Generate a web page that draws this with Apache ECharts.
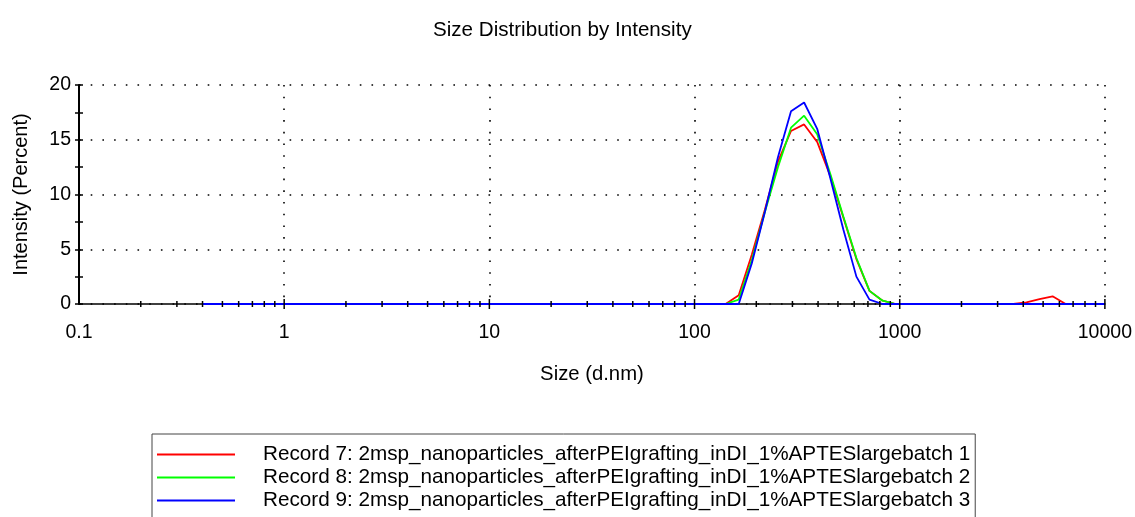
<!DOCTYPE html>
<html>
<head>
<meta charset="utf-8">
<script src="https://cdn.jsdelivr.net/npm/echarts@6/dist/echarts.min.js"></script>
<style>
html,body{margin:0;padding:0;background:#fff;}
#chart{width:1135px;height:517px;}
</style>
</head>
<body>
<div id="chart"></div>
<script>
// Size classes (d.nm)
const sizes = [0.4, 0.4632, 0.5365, 0.6213, 0.7195, 0.8332, 0.9649, 1.117, 1.294, 1.499,
  1.736, 2.01, 2.328, 2.696, 3.122, 3.615, 4.187, 4.849, 5.615, 6.503,
  7.531, 8.721, 10.1, 11.7, 13.54, 15.69, 18.17, 21.04, 24.36, 28.21,
  32.67, 37.84, 43.82, 50.75, 58.77, 68.06, 78.82, 91.28, 105.7, 122.4,
  141.8, 164.2, 190.1, 220.2, 255.0, 295.3, 342.0, 396.1, 458.7, 531.2,
  615.1, 712.4, 825.0, 955.4, 1106, 1281, 1484, 1718, 1990, 2305,
  2669, 3091, 3580, 4145, 4801, 5560, 6439, 7456, 8635, 10000];

const record7 = [0,0,0,0,0,0,0,0,0,0,
  0,0,0,0,0,0,0,0,0,0,
  0,0,0,0,0,0,0,0,0,0,
  0,0,0,0,0,0,0,0,0,0,
  0,0.8,4.5,8.6,13.0,15.8,16.4,14.8,11.7,7.9,
  4.1,1.2,0.3,0,0,0,0,0,0,0,
  0,0,0,0.15,0.45,0.7,0,0,0,0];

const record8 = [0,0,0,0,0,0,0,0,0,0,
  0,0,0,0,0,0,0,0,0,0,
  0,0,0,0,0,0,0,0,0,0,
  0,0,0,0,0,0,0,0,0,0,
  0,0.4,4.0,8.4,12.5,16.1,17.2,15.5,11.9,8.0,
  4.2,1.2,0.3,0,0,0,0,0,0,0,
  0,0,0,0,0,0,0,0,0,0];

const record9 = [0,0,0,0,0,0,0,0,0,0,
  0,0,0,0,0,0,0,0,0,0,
  0,0,0,0,0,0,0,0,0,0,
  0,0,0,0,0,0,0,0,0,0,
  0,0,3.7,8.4,13.4,17.6,18.4,16.0,11.5,6.8,
  2.5,0.4,0,0,0,0,0,0,0,0,
  0,0,0,0,0,0,0,0,0,0];

const seriesNames = [
  'Record 7: 2msp_nanoparticles_afterPEIgrafting_inDI_1%APTESlargebatch 1',
  'Record 8: 2msp_nanoparticles_afterPEIgrafting_inDI_1%APTESlargebatch 2',
  'Record 9: 2msp_nanoparticles_afterPEIgrafting_inDI_1%APTESlargebatch 3'
];
const seriesColors = ['#ff0000', '#00ff00', '#0000ff'];

const xMajorTicks = [1, 10, 100, 1000, 10000];
const xMinorTicks = [0.2,0.3,0.4,0.5,0.6,0.7,0.8,0.9,
  2,3,4,5,6,7,8,9,
  20,30,40,50,60,70,80,90,
  200,300,400,500,600,700,800,900,
  2000,3000,4000,5000,6000,7000,8000,9000];
const xTickLabels = ['0.1', '1', '10', '100', '1000', '10000'];

const FONT = "'Liberation Sans', Arial, sans-serif";
const dotted = { color: '#000', width: 1.6, type: [1.6, 10.1] };

const chart = echarts.init(document.getElementById('chart'), null, { renderer: 'canvas' });

function pairs(vals) { return sizes.map((s, i) => [s, vals[i]]); }

const tickData = xMajorTicks.map(v => [v, 0, 5]).concat(xMinorTicks.map(v => [v, 0, 3]));

const option = {
  backgroundColor: '#fff',
  animation: false,
  title: {
    text: 'Size Distribution by Intensity',
    left: 428, top: 15,
    textStyle: { fontFamily: FONT, fontSize: 20.6, fontWeight: 'normal', color: '#000' }
  },
  grid: { left: 79, top: 85, width: 1026, height: 219 },
  legend: {
    data: seriesNames,
    orient: 'vertical',
    left: 152, top: 434,
    height: 200,
    padding: [10, 5, 30, 5],
    itemGap: 2,
    itemWidth: 78, itemHeight: 2,
    icon: 'rect',
    borderColor: '#444', borderWidth: 1,
    textStyle: { fontFamily: FONT, fontSize: 20.7, color: '#000', lineHeight: 20, padding: [0, 0, 0, 23] }
  },
  xAxis: [{
    type: 'log', logBase: 10, min: 0.1, max: 10000,
    name: 'Size (d.nm)', nameLocation: 'middle', nameGap: 60,
    nameTextStyle: { fontFamily: FONT, fontSize: 20.3, color: '#000' },
    axisLine: { show: true, onZero: false, lineStyle: { color: '#000', width: 1.6 } },
    axisTick: { show: false },
    axisLabel: {
      fontFamily: FONT, fontSize: 19.5, color: '#000', margin: 19,
      formatter: function (v) {
        const k = Math.round(Math.log10(v)) + 1;
        return xTickLabels[k] !== undefined ? xTickLabels[k] : String(v);
      }
    },
    splitLine: { show: true, lineStyle: dotted }
  }],
  yAxis: [{
    type: 'value', min: 0, max: 20, interval: 5,
    name: 'Intensity (Percent)', nameLocation: 'middle', nameGap: 48,
    nameTextStyle: { fontFamily: FONT, fontSize: 20, color: '#000' },
    axisLine: { show: true, onZero: false, lineStyle: { color: '#000', width: 2 } },
    axisTick: { show: true, length: 4, lineStyle: { color: '#000', width: 1.5 } },
    minorTick: { show: true, splitNumber: 2, length: 4, lineStyle: { color: '#000', width: 1.5 } },
    axisLabel: { fontFamily: FONT, fontSize: 19.5, color: '#000', margin: 8 },
    splitLine: { show: true, lineStyle: dotted }
  }, {
    type: 'value', min: 0, max: 20, interval: 5, position: 'left',
    axisLine: { show: false },
    axisTick: { show: true, inside: true, length: 4, lineStyle: { color: '#000', width: 1.5 } },
    minorTick: { show: true, splitNumber: 2, length: 4, lineStyle: { color: '#000', width: 1.5 } },
    axisLabel: { show: false },
    splitLine: { show: false }
  }],
  series: [
    { name: seriesNames[0], type: 'line', data: pairs(record7), symbol: 'none', clip: false, color: seriesColors[0], lineStyle: { width: 1.8, color: seriesColors[0] }, z: 3 },
    { name: seriesNames[1], type: 'line', data: pairs(record8), symbol: 'none', clip: false, color: seriesColors[1], lineStyle: { width: 1.8, color: seriesColors[1] }, z: 4 },
    { name: seriesNames[2], type: 'line', data: pairs(record9), symbol: 'none', clip: false, color: seriesColors[2], lineStyle: { width: 1.8, color: seriesColors[2] }, z: 5 },
    {
      type: 'custom', name: 'xticks', z: 10, silent: true, clip: false,
      data: tickData,
      renderItem: function (params, api) {
        const p = api.coord([api.value(0), api.value(1)]);
        const h = api.value(2);
        return { type: 'line', shape: { x1: p[0], y1: p[1] - h, x2: p[0], y2: p[1] + h },
          style: { stroke: '#000', lineWidth: 1.5 } };
      }
    }
  ]
};
chart.setOption(option);
</script>
</body>
</html>
